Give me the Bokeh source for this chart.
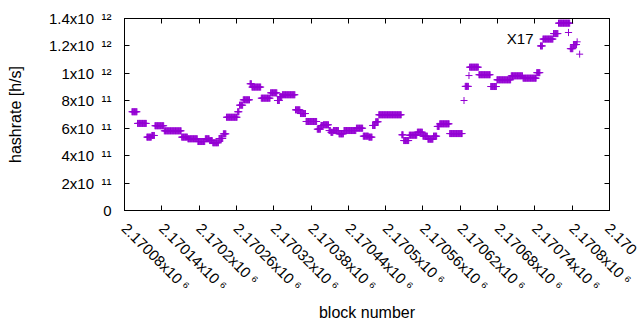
import math
from bokeh.plotting import figure
from bokeh.models import (Range1d, FixedTicker, LinearAxis, Label, Legend,
                          LegendItem, ColumnDataSource, CustomJSTickFormatter)
from bokeh.embed import file_html
from bokeh.resources import INLINE

# ---- data: runs of blocks sharing one hashrate estimate ----
seg_first = [2170092, 2170101, 2170116, 2170124, 2170129, 2170144, 2170172, 2170182,
             2170198, 2170210, 2170217, 2170222, 2170232, 2170239, 2170244, 2170262,
             2170265, 2170271, 2170282, 2170285, 2170300, 2170315, 2170326, 2170330,
             2170334, 2170355, 2170363, 2170372, 2170390, 2170396, 2170400, 2170409,
             2170412, 2170416, 2170425, 2170433, 2170453, 2170464, 2170473, 2170479,
             2170484, 2170489, 2170526, 2170529, 2170538, 2170551, 2170560, 2170568,
             2170577, 2170583, 2170587, 2170603, 2170626, 2170628, 2170634, 2170635,
             2170650, 2170669, 2170679, 2170702, 2170721, 2170743, 2170749, 2170753,
             2170770, 2170778, 2170797, 2170802, 2170808, 2170812]
seg_last = [2170100, 2170115, 2170123, 2170128, 2170143, 2170171, 2170181, 2170197,
            2170209, 2170216, 2170221, 2170231, 2170238, 2170243, 2170261, 2170264,
            2170270, 2170281, 2170284, 2170299, 2170314, 2170325, 2170329, 2170333,
            2170354, 2170362, 2170371, 2170389, 2170395, 2170399, 2170408, 2170411,
            2170415, 2170424, 2170432, 2170452, 2170463, 2170472, 2170478, 2170483,
            2170488, 2170525, 2170528, 2170537, 2170550, 2170559, 2170567, 2170576,
            2170582, 2170586, 2170602, 2170623, 2170626, 2170633, 2170634, 2170649,
            2170668, 2170678, 2170701, 2170720, 2170742, 2170748, 2170752, 2170769,
            2170777, 2170796, 2170801, 2170807, 2170808, 2170812]
seg_rate = [7.20e11, 6.35e11, 5.35e11, 5.47e11, 6.18e11, 5.81e11, 5.35e11, 5.23e11,
            5.03e11, 5.23e11, 5.10e11, 4.94e11, 5.25e11, 5.59e11, 6.80e11, 7.20e11,
            7.68e11, 8.07e11, 9.24e11, 9.00e11, 8.19e11, 8.58e11, 8.02e11, 8.30e11,
            8.44e11, 7.34e11, 7.07e11, 6.49e11, 5.93e11, 6.20e11, 6.25e11, 5.83e11,
            5.70e11, 5.83e11, 5.59e11, 5.83e11, 6.00e11, 5.42e11, 5.35e11, 6.20e11,
            6.47e11, 6.98e11, 5.52e11, 5.10e11, 5.49e11, 5.71e11, 5.42e11, 5.20e11,
            5.42e11, 6.13e11, 6.32e11, 5.61e11, 8.02e11, 9.05e11, 9.84e11, 1.045e12,
            9.90e11, 9.04e11, 9.53e11, 9.82e11, 9.65e11, 1.005e12, 1.20e12, 1.25e12,
            1.29e12, 1.366e12, 1.18e12, 1.21e12, 1.23e12, 1.14e12]

SP = "\u2002"   # en space between mantissa and exponent on the y axis
SUP6 = " \u2076"
x_ticks = [2170080, 2170140, 2170200, 2170260, 2170320, 2170380, 2170440,
           2170500, 2170560, 2170620, 2170680, 2170740, 2170800, 2170860]
# the last label runs off the right edge of the original picture; only its start shows
x_tick_labels = ["2.17008x10" + SUP6, "2.17014x10" + SUP6, "2.1702x10" + SUP6,
                 "2.17026x10" + SUP6, "2.17032x10" + SUP6, "2.17038x10" + SUP6,
                 "2.17044x10" + SUP6, "2.1705x10" + SUP6, "2.17056x10" + SUP6,
                 "2.17062x10" + SUP6, "2.17068x10" + SUP6, "2.17074x10" + SUP6,
                 "2.1708x10" + SUP6, "2.170"]
y_ticks = [0, 2e11, 4e11, 6e11, 8e11, 1e12, 1.2e12, 1.4e12]
y_tick_labels = ["0", "2x10" + SP + "\u00b9\u00b9", "4x10" + SP + "\u00b9\u00b9",
                 "6x10" + SP + "\u00b9\u00b9", "8x10" + SP + "\u00b9\u00b9",
                 "1x10" + SP + "\u00b9\u00b2", "1.2x10" + SP + "\u00b9\u00b2",
                 "1.4x10" + SP + "\u00b9\u00b2"]
series_name = "X17"
x_title = "block number"
y_title = "hashrate [h/s]"

# ---- expand runs to one point per block ----
xs, ys = [], []
for f, l, r in zip(seg_first, seg_last, seg_rate):
    for b in range(f, l + 1):
        xs.append(b)
        ys.append(r)

FONT = "Liberation Sans"
FS = "15px"
PURPLE = "#9400D3"

p = figure(width=640, height=330, output_backend="svg", toolbar_location=None,
           x_range=Range1d(2170080, 2170860), y_range=Range1d(0, 1.4e12),
           min_border_left=124, min_border_right=31, min_border_top=18,
           min_border_bottom=120)
p.background_fill_color = "white"
p.border_fill_color = "white"
p.outline_line_color = "black"
p.outline_line_width = 1
p.xgrid.visible = False
p.ygrid.visible = False


def style_axis(ax, ticks, labels=None):
    ax.ticker = FixedTicker(ticks=ticks)
    if labels is None:
        ax.formatter = CustomJSTickFormatter(code="return ''")
        ax.major_label_text_font_size = "0px"
    else:
        ax.major_label_overrides = {t: s for t, s in zip(ticks, labels)}
        ax.major_label_text_font = FONT
        ax.major_label_text_font_size = FS
        ax.major_label_text_color = "black"
    ax.major_tick_in = 5
    ax.major_tick_out = 0
    ax.minor_tick_in = 0
    ax.minor_tick_out = 0
    ax.axis_line_color = "black"
    ax.major_tick_line_color = "black"


xa = p.xaxis[0]
ya = p.yaxis[0]
style_axis(xa, x_ticks, x_tick_labels)
style_axis(ya, y_ticks, y_tick_labels)
xa.major_label_orientation = -math.pi / 4
xa.major_label_standoff = 15
ya.major_label_standoff = 13

xa.axis_label = x_title
xa.axis_label_text_font = FONT
xa.axis_label_text_font_size = "16px"
xa.axis_label_text_font_style = "normal"
xa.axis_label_text_color = "black"
xa.axis_label_standoff = 1

ya.axis_label = y_title
ya.axis_label_text_font = FONT
ya.axis_label_text_font_size = "16px"
ya.axis_label_text_font_style = "normal"
ya.axis_label_text_color = "black"
ya.axis_label_standoff = 22

top_ax = LinearAxis()
right_ax = LinearAxis()
style_axis(top_ax, x_ticks)
style_axis(right_ax, y_ticks)
p.add_layout(top_ax, "above")
p.add_layout(right_ax, "right")

src = ColumnDataSource(dict(x=xs, y=ys))
r = p.scatter("x", "y", source=src, marker="cross", size=7,
              line_color=PURPLE, line_width=1)

# ---- key (gnuplot style: text, then sample) ----
legend = Legend(items=[LegendItem(label=" ", renderers=[r])],
                location=(434.7, 169.3), padding=0, margin=0, spacing=0,
                glyph_width=18, glyph_height=18, label_width=0, label_height=18,
                label_standoff=0, label_text_font_size="1px",
                border_line_alpha=0, background_fill_alpha=0)
p.add_layout(legend)
p.add_layout(Label(x=409, y=172, x_units="screen", y_units="screen", text=series_name,
                   text_align="right", text_baseline="alphabetic",
                   text_font=FONT, text_font_size=FS, text_color="black"))

open("out.html", "w").write(file_html(p, INLINE))
